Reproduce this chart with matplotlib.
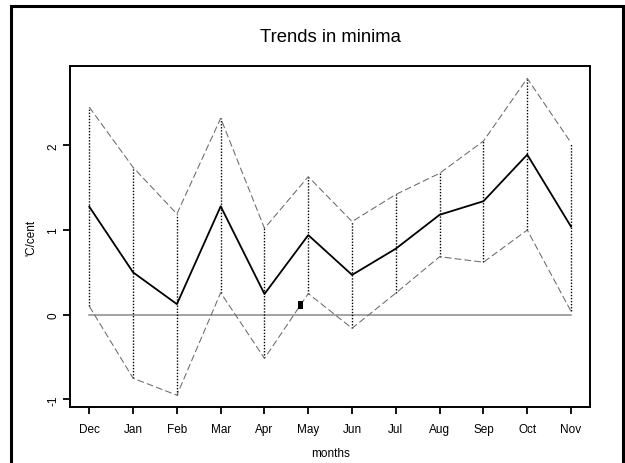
import matplotlib
matplotlib.use('Agg')
import matplotlib.pyplot as plt
import matplotlib.patches as patches
import numpy as np

plt.rcParams['font.family'] = ['Liberation Sans', 'DejaVu Sans']

# data
months = ['Dec', 'Jan', 'Feb', 'Mar', 'Apr', 'May', 'Jun', 'Jul', 'Aug', 'Sep', 'Oct', 'Nov']
trend = [1.275, 0.50, 0.125, 1.28, 0.245, 0.94, 0.47, 0.78, 1.18, 1.34, 1.89, 1.04]
upper = [2.45, 1.74, 1.19, 2.32, 1.02, 1.63, 1.10, 1.42, 1.67, 2.05, 2.79, 2.03]
lower = [0.10, -0.75, -0.95, 0.26, -0.515, 0.25, -0.16, 0.256, 0.685, 0.62, 1.00, 0.04]
yticks = [-1, 0, 1, 2]
# small black block left over near May (x from, x to, y from, y to)
blob = (4.77, 4.886, 0.067, 0.158)


def draw(fig):
    W, H = 625.0, 464.0
    ax = fig.add_axes([70.3 / W, 1 - 408.3 / H, 520 / W, 341.6 / H])

    x = np.arange(len(months))

    ax.plot([x[0], x[-1]], [0, 0], color='#8a8a8a', linewidth=1.1, zorder=1)
    ax.vlines(x, lower, upper, colors='black', linestyles=(0, (1, 1.2)), linewidth=1.0, zorder=2)
    ax.plot(x, upper, color='#6a6a6a', linewidth=0.75, dashes=(6.5, 3), zorder=3)
    ax.plot(x, lower, color='#6a6a6a', linewidth=0.75, dashes=(6.5, 3), zorder=3)
    ax.plot(x, trend, color='black', linewidth=1.3, zorder=4)

    ax.add_patch(patches.Rectangle((blob[0], blob[2]), blob[1] - blob[0], blob[3] - blob[2],
                                   facecolor='black', edgecolor='none', zorder=5))

    ax.set_xlim(-0.434, 11.44)
    ax.set_ylim(-1.093, 2.94)
    ax.set_xticks(x)
    ax.set_xticklabels(months)
    ax.set_yticks(yticks)
    ax.set_yticklabels([str(v) for v in yticks], rotation=90, va='center')

    for sp in ax.spines.values():
        sp.set_linewidth(1.4)
    ax.tick_params(direction='out', length=5, width=1.3, labelsize=8.5, pad=6)
    ax.tick_params(axis='y', pad=3)

    ax.set_xlabel('months', fontsize=8.5, va='center')
    ax.xaxis.set_label_coords(0.5, (408.3 - 454) / 341.6)
    ax.set_ylabel("'C/cent", fontsize=8.5, va='center')
    ax.yaxis.set_label_coords((31.5 - 70.3) / 520, 0.5)

    fig.text(330.3 / W, 1 - 37 / H, 'Trends in minima', fontsize=13.3, ha='center', va='center')

    # outer frame round the whole picture, running off the bottom edge
    frame = patches.Rectangle((11 / W, -0.05), 612 / W, 1.05 - 7 / H, transform=fig.transFigure,
                              facecolor='none', edgecolor='black', linewidth=2.2)
    fig.patches.append(frame)

    return ax


fig = plt.figure(figsize=(6.25, 4.64), dpi=100)
draw(fig)
fig.savefig('out.png', dpi=100)
